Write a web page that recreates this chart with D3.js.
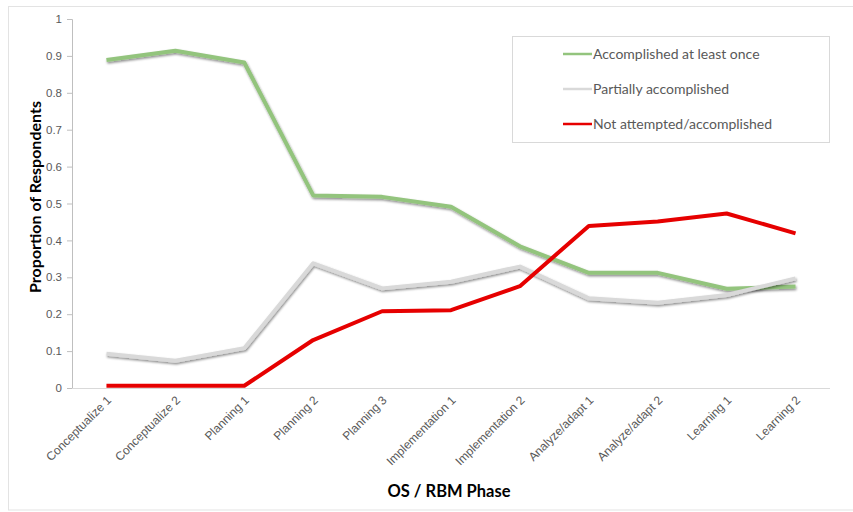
<!DOCTYPE html>
<html>
<head>
<meta charset="utf-8">
<script src="https://cdn.jsdelivr.net/npm/d3@7"></script>
<style>
  body { margin: 0; background: #fff; }
  svg { display: block; font-family: Lato, "Open Sans", "Liberation Sans", sans-serif; }
</style>
</head>
<body>
<svg id="chart" width="853" height="512"></svg>
<script>
// Phases of the OS / RBM cycle
const phases = ["Conceptualize 1", "Conceptualize 2", "Planning 1", "Planning 2", "Planning 3",
  "Implementation 1", "Implementation 2", "Analyze/adapt 1", "Analyze/adapt 2", "Learning 1", "Learning 2"];

// Proportion of respondents per outcome
const accomplished = [0.889, 0.914, 0.882, 0.522, 0.518, 0.491, 0.384, 0.312, 0.312, 0.269, 0.275];
const partial      = [0.093, 0.074, 0.108, 0.338, 0.270, 0.288, 0.329, 0.243, 0.231, 0.252, 0.297];
const notAttempted = [0.006, 0.006, 0.006, 0.130, 0.208, 0.211, 0.276, 0.439, 0.451, 0.473, 0.419];

const yTicks = [0, 0.1, 0.2, 0.3, 0.4, 0.5, 0.6, 0.7, 0.8, 0.9, 1];

const seriesNames = ["Accomplished at least once", "Partially accomplished", "Not attempted/accomplished"];
const seriesValues = [accomplished, partial, notAttempted];
const seriesColors = ["#93c47d", "#d9d9d9", "#e60000"];

const svg = d3.select("#chart");

// outer frame
svg.append("rect").attr("x", 8.5).attr("y", 6.5).attr("width", 860).attr("height", 503.5)
  .attr("fill", "#fff").attr("stroke", "#e3e3e3");

const plotLeft = 72, plotRight = 830, plotTop = 19, plotBottom = 388;

const x = d3.scalePoint().domain(phases).range([plotLeft, plotRight]).padding(0.5);
const y = d3.scaleLinear().domain([0, 1]).range([plotBottom, plotTop]);

// soft shadow under lines
const defs = svg.append("defs");
const f = defs.append("filter").attr("id", "shadow").attr("x", "-5%").attr("y", "-20%")
  .attr("width", "110%").attr("height", "140%");
f.append("feDropShadow").attr("dx", 0.8).attr("dy", 1.6).attr("stdDeviation", 0.9)
  .attr("flood-color", "#000").attr("flood-opacity", 0.45);

// y axis
const yAxis = svg.append("g").attr("transform", `translate(${plotLeft},0)`)
  .call(d3.axisLeft(y).tickValues(yTicks).tickSize(5).tickPadding(5).tickFormat(d3.format("")));
yAxis.select(".domain").attr("stroke", "#bfbfbf");
yAxis.selectAll(".tick line").attr("stroke", "#bfbfbf");
yAxis.selectAll(".tick text").attr("fill", "#595959").attr("font-size", 11.5);

// x axis
const xAxis = svg.append("g").attr("transform", `translate(0,${plotBottom})`)
  .call(d3.axisBottom(x).tickSize(0).tickPadding(0));
xAxis.select(".domain").attr("stroke", "#d9d9d9").attr("d", `M${plotLeft},0.5H${plotRight}`);
xAxis.selectAll(".tick text")
  .attr("fill", "#595959").attr("font-size", 12)
  .attr("text-anchor", "end")
  .attr("dy", 0)
  .attr("transform", "translate(5,13) rotate(-45)");

// lines
const line = d3.line().x((d, i) => x(phases[i])).y(d => y(d));
seriesValues.forEach((vals, k) => {
  svg.append("path").datum(vals)
    .attr("fill", "none")
    .attr("stroke", seriesColors[k])
    .attr("stroke-width", 4)
    .attr("stroke-linejoin", "round")
    .attr("filter", k === 2 ? null : "url(#shadow)")
    .attr("d", line);
});

// legend
const lg = svg.append("g");
lg.append("rect").attr("x", 512.5).attr("y", 36.5).attr("width", 317).attr("height", 106)
  .attr("fill", "#fff").attr("stroke", "#d9d9d9");
seriesNames.forEach((name, k) => {
  const yy = 54 + k * 35;
  lg.append("line").attr("x1", 563).attr("x2", 592).attr("y1", yy).attr("y2", yy)
    .attr("stroke", seriesColors[k]).attr("stroke-width", 2.5);
  lg.append("text").attr("x", 593).attr("y", yy).attr("dy", "0.35em")
    .attr("fill", "#595959").attr("font-size", 14).text(name);
});

// axis titles
svg.append("text").attr("transform", "translate(41,197) rotate(-90)")
  .attr("text-anchor", "middle").attr("font-weight", "bold").attr("font-size", 16)
  .attr("fill", "#000").text("Proportion of Respondents");
svg.append("text").attr("x", 449).attr("y", 497)
  .attr("text-anchor", "middle").attr("font-weight", "bold").attr("font-size", 16.5)
  .attr("fill", "#000").text("OS / RBM Phase");
</script>
</body>
</html>
